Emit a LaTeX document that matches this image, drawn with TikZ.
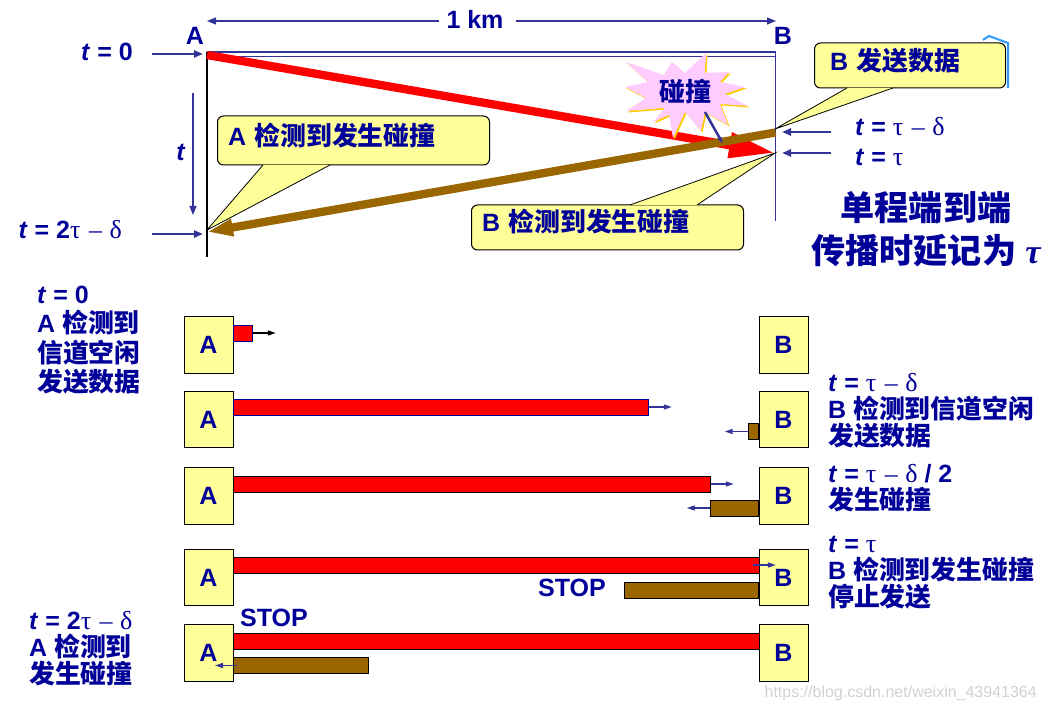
\documentclass[tikz,border=0pt]{standalone}
\usepackage{fontspec}
\usepackage{xcolor}
\usepackage{tikz}
\usetikzlibrary{arrows.meta,positioning,calc}
\setmainfont{Liberation Sans}
\newfontfamily\cjkfont[Scale=1.035]{Noto Sans CJK SC}
\newfontfamily\grkfont[Scale=1.04]{Liberation Serif}
\definecolor{textnavy}{RGB}{0,0,153}
\definecolor{arrowblue}{RGB}{51,51,153}
\definecolor{boxyellow}{RGB}{255,255,153}
\definecolor{sigred}{RGB}{255,0,0}
\definecolor{sigbrown}{RGB}{153,102,0}
\definecolor{starpink}{RGB}{255,204,255}
\definecolor{stargold}{RGB}{255,204,0}
\definecolor{cornerblue}{RGB}{51,153,255}
\newcommand{\zh}[1]{{\cjkfont #1}}
\newcommand{\gk}[1]{{\grkfont\mdseries #1}}
\newcommand{\taudelta}{{\grkfont\mdseries τ\hspace{2pt} – \hspace{1pt}δ}}
\newcommand{\tvar}{\textit{t}}
\newcommand{\starpath}{(706,53) -- (705,73) -- (729,72) -- (720,82) -- (745,87) -- (725,94)
  -- (748,106) -- (720,104) -- (728,125) -- (705,112) -- (701,131) -- (685,112) -- (673,138)
  -- (669,115) -- (653,122) -- (665,108) -- (626,111) -- (646,98) -- (625,87) -- (648,82)
  -- (626,62) -- (664,75) -- (672,62) -- (685,73) -- cycle}
\newcommand{\calltail}[3]{
  \fill[boxyellow] (#1) -- (#2) -- (#3) -- cycle;
  \draw[black, line width=.8pt] (#1) -- (#2) -- (#3);
}

\begin{document}
\begin{tikzpicture}[
  x=1pt, y=-1pt,
  txt/.style={font=\fontsize{25}{27}\selectfont\bfseries, text=textnavy, inner sep=0pt, align=left},
  callbox/.style={txt, draw=black, fill=boxyellow, line width=1pt, rounded corners=6pt,
                  text width=#1, inner xsep=10.5pt},
  station/.style={txt, draw=black, fill=boxyellow, line width=1pt, align=center,
                  minimum width=49pt, minimum height=56.5pt},
  redbar/.style={draw=black, fill=sigred, line width=.8pt, inner sep=0pt, minimum height=16pt, anchor=west},
  brownbar/.style={draw=black, fill=sigbrown, line width=.8pt, inner sep=0pt, minimum height=16pt},
  tarr/.style={draw=arrowblue, line width=2.2pt, -{Triangle[length=9pt,width=7pt]}},
  rowarr/.style={draw=arrowblue, line width=1.3pt, -{Triangle[length=8pt,width=5pt]}}
]
\useasboundingbox (0,0) rectangle (1045,711);

\coordinate (Atop) at (207,52);
\coordinate (Abot) at (207,257);
\coordinate (Btop) at (775.5,52);
\coordinate (Bbot) at (775.5,221);
\coordinate (redstart) at (207,55);
\coordinate (redend) at (775,153);
\coordinate (brownstart) at (775.5,132.5);
\coordinate (brownend) at (207,232);

\draw[cornerblue, line width=2pt] (983,40) -- (989,36) -- (1008,43) -- (1008,88);

\node[txt] (km) at (475,19) {1 km};
\draw[tarr, line width=1.2pt] (km.west) ++(-7,2) -- (207,21);
\draw[tarr, line width=1.2pt] (km.east) ++(12,2) -- (776,21);
\node[txt] (Alab) at (195,36) {A};
\node[txt] (Blab) at (783,36) {B};

\draw[arrowblue, line width=1.5pt] (Atop) -- (Btop) -- (Bbot);
\draw[arrowblue, line width=1pt] (207,56.5) -- (775,56.5);
\draw[black, line width=1.5pt] (Atop) -- (Abot);

\draw[sigred, line width=8.3pt, -{Triangle[length=46pt,width=24pt]}] (redstart) -- (redend);
\draw[sigbrown, line width=8.3pt, -{Triangle[length=26pt,width=16pt]}] (brownstart) -- (brownend);

\node[txt, anchor=east] (t0lab) at (133,52) {\tvar\ = 0};
\node[txt, anchor=east] (t2lab) at (122,230) {\tvar\ = 2\taudelta};
\node[txt] (tlab) at (181,152) {\tvar};
\node[txt, anchor=west] (t3lab) at (855,127) {\tvar\ = \taudelta};
\node[txt, below=13pt of t3lab.south west, anchor=north west] (t4lab) {\tvar\ = \gk{τ}};

\coordinate (tzero) at (152,54);
\coordinate (ttwo) at (152,234);
\coordinate (tthree) at (831,132);
\coordinate (tfour) at (831,153);
\draw[tarr] (tzero) -- (203,54);
\draw[tarr] (ttwo) -- (203,234);
\draw[tarr] (tthree) -- (782,132);
\draw[tarr] (tfour) -- (782,153);
\draw[tarr, line width=1.2pt] (193,93) -- (193,215);

\node[callbox=251pt, text height=30pt, text depth=19pt, anchor=north west] (Acall) at (217,115.5) {A \zh{检测到发生碰撞}};
\calltail{$(Acall.south west)+(46,-.5)$}{207,230}{$(Acall.south west)+(113,-.5)$}
\node[callbox=251pt, text height=27pt, text depth=18pt, anchor=north west] (Bdet) at (471,204.5) {B \zh{检测到发生碰撞}};
\calltail{$(Bdet.north west)+(159,.5)$}{775,153}{$(Bdet.north west)+(226,.5)$}
\node[callbox=160pt, inner xsep=15.5pt, text height=28pt, text depth=17pt, anchor=north west] (Bsend) at (814,42.5) {B \zh{发送数据}};
\calltail{$(Bsend.south west)+(33,-.5)$}{775,129}{$(Bsend.south west)+(79,-.5)$}

\fill[stargold, shift={(1.5,1.5)}] \starpath;
\fill[starpink] \starpath;
\node[txt] (hit) at (685,92) {\zh{碰撞}};
\coordinate (hitfoot) at (705,112);
\coordinate (hitpoint) at (723,144);
\draw[arrowblue, line width=2.5pt, -{Triangle[length=7pt,width=4pt]}] (hitfoot) -- (hitpoint);

\node[txt, font=\fontsize{33}{43}\selectfont\bfseries, align=center] (oneway) at (926,229.5)
  {\zh{单程端到端}\\\zh{传播时延记为} {\grkfont\itshape τ}};

% stations
\foreach \n/\y in {1/345,2/419.5,3/496,4/577.5,5/653}{
  \node[station] (Asta\n) at (208.5,\y) {A};
  \node[station] (Bsta\n) at (783.5,\y) {B};
}

\node[redbar, draw=textnavy, minimum width=19pt] (red1) at (233,333) {};
\node[redbar, draw=textnavy, minimum width=415pt] (red2) at (233,407) {};
\node[redbar, minimum width=477pt] (red3) at (233,484) {};
\node[redbar, minimum width=526pt] (red4) at (233,565) {};
\node[redbar, minimum width=526pt] (red5) at (233,641) {};

\node[brownbar, minimum width=10.5pt, anchor=east] (brown2) at (759,431.5) {};
\node[brownbar, minimum width=48.5pt, anchor=east] (brown3) at (759,508) {};
\node[brownbar, minimum width=134.5pt, anchor=east] (brown4) at (759,590) {};
\node[brownbar, minimum width=134.5pt, anchor=west] (brown5) at (233,665.5) {};

\draw[rowarr, draw=black] (red1.east) -- ++(23,0);
\draw[rowarr] (red2.east) -- ++(23,0);
\draw[rowarr] (red3.east) -- ++(23,0);
\draw[rowarr] ([xshift=-7pt]red4.east) -- ++(23,0);
\draw[rowarr] (brown2.west) -- ++(-23,0);
\draw[rowarr] (brown3.west) -- ++(-23,0);
\draw[rowarr] ([xshift=4pt]brown5.west) -- ++(-22,0);

\node[txt, anchor=west] (stop4) at (538,588) {STOP};
\node[txt, anchor=west] (stop5) at (240,618) {STOP};

\node[txt, font=\fontsize{25}{29.3}\selectfont\bfseries, anchor=north west] (desc1) at (37,286)
  {\tvar\ = 0\\A \zh{检测到}\\\zh{信道空闲}\\\zh{发送数据}};
\node[txt, anchor=north west] (desc2) at (29,611)
  {\tvar\ = 2\taudelta\\A \zh{检测到}\\\zh{发生碰撞}};
\node[txt, anchor=north west] (desc3) at (828,373.5)
  {\tvar\ = \taudelta\\B \zh{检测到信道空闲}\\\zh{发送数据}};
\node[txt, anchor=north west] (desc4) at (828,464.5)
  {\tvar\ = \taudelta{} / 2\\\zh{发生碰撞}};
\node[txt, anchor=north west] (desc5) at (828,536)
  {\tvar\ = \gk{τ}\\B \zh{检测到发生碰撞}\\\zh{停止发送}};

\node[font=\fontsize{16}{18}\selectfont, text=black!18, anchor=east, inner sep=0pt] (mark) at (1037,693)
  {https://blog.csdn.net/weixin\_43941364};
\end{tikzpicture}
\end{document}
